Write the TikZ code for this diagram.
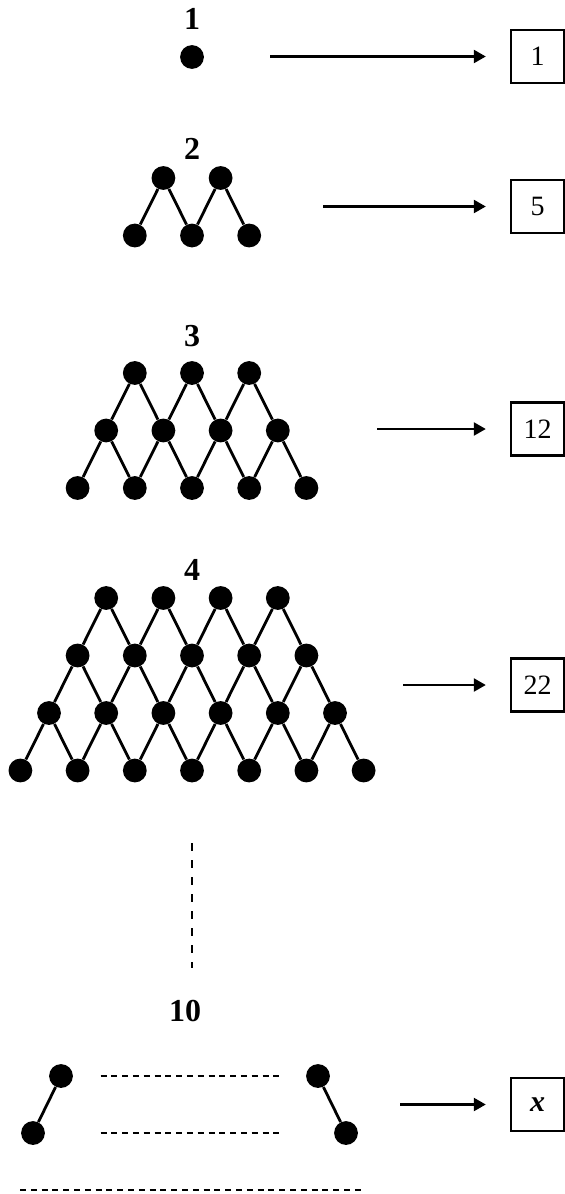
\documentclass[tikz,border=0pt]{standalone}
\usepackage{fontspec}
\setmainfont{Liberation Serif}
\usetikzlibrary{arrows.meta}

\begin{document}
\begin{tikzpicture}[
  x=0.5pt, y=-0.5pt,
  dot/.style={circle, fill=black, inner sep=0pt, minimum size=11.9pt},
  lvl/.style={inner sep=0pt, font=\fontsize{16}{19}\selectfont\bfseries},
  countbox/.style={draw, line width=1.2pt, minimum size=26.5pt, inner sep=0pt, font=\fontsize{14}{16}\selectfont},
  bond/.style={line width=1.4pt},
  ar/.style={line width=1.2pt, -{Triangle[length=6pt,width=6.5pt]}, shorten >=12pt},
  dots/.style={line width=1.1pt, dash pattern=on 3pt off 2.4pt},
  vdots/.style={line width=1.4pt, dash pattern=on 4pt off 4.5pt}]

  \useasboundingbox (0,0) rectangle (565,1194);

  % level labels
  \node[lvl] (t1) at (192,19) {1};
  \node[lvl] (t2) at (192,149) {2};
  \node[lvl] (t3) at (192,336) {3};
  \node[lvl] (t4) at (192,570) {4};
  \node[lvl] (t10) at (185,1011) {10};

  % lattices of levels 1--4
  \foreach \L/\ty in {1/57,2/178,3/373,4/598}{
    \pgfmathtruncatemacro{\Lm}{\L-1}
    \foreach \r in {0,...,\Lm}{
      \pgfmathtruncatemacro{\n}{\L+\r-1}
      \foreach \k in {0,...,\n}
        \node[dot] (d\L-\r-\k) at ({192+(\k-\n/2)*57.2},{\ty+\r*57.5}) {};
    }
  }
  \foreach \L in {2,3,4}{
    \pgfmathtruncatemacro{\Lm}{\L-2}
    \foreach \r in {0,...,\Lm}{
      \pgfmathtruncatemacro{\s}{\r+1}
      \pgfmathtruncatemacro{\n}{\L+\r-1}
      \foreach \k in {0,...,\n}{
        \pgfmathtruncatemacro{\j}{\k+1}
        \draw[bond] (d\L-\r-\k) -- (d\L-\s-\k) (d\L-\r-\k) -- (d\L-\s-\j);
      }
    }
  }

  % level 10
  \node[dot] (e1) at (61,1076) {};
  \node[dot] (e2) at (33,1133) {};
  \node[dot] (e3) at (318,1076) {};
  \node[dot] (e4) at (346,1133) {};
  \draw[bond] (e2) -- (e1);
  \draw[bond] (e3) -- (e4);
  \draw[dots, shorten <=13.6pt, shorten >=11.6pt] (e1) -- (e3);
  \draw[dots, shorten <=27.6pt, shorten >=25.6pt] (e2) -- (e4);

  \coordinate (v1) at (192,843);
  \coordinate (v2) at (192,968);
  \draw[vdots] (v1) -- (v2);
  \coordinate (h1) at (20,1190);
  \coordinate (h2) at (363,1190);
  \draw[dots] (h1) -- (h2);

  % counts
  \node[countbox] (b1) at (537.5,56.5) {1};
  \node[countbox] (b2) at (537.5,206.5) {5};
  \node[countbox] (b3) at (537.5,429) {12};
  \node[countbox] (b4) at (537.5,685) {22};
  \node[countbox, font=\fontsize{15}{17}\selectfont\bfseries\itshape] (b5) at (537.5,1104.5) {x};

  \coordinate (a1) at (270,56.5);
  \coordinate (a2) at (323,206.5);
  \coordinate (a3) at (377,429);
  \coordinate (a4) at (403,685);
  \coordinate (a5) at (400,1104.5);
  \draw[ar] (a1) -- (b1);
  \draw[ar] (a2) -- (b2);
  \draw[ar] (a3) -- (b3);
  \draw[ar] (a4) -- (b4);
  \draw[ar] (a5) -- (b5);
\end{tikzpicture}
\end{document}
